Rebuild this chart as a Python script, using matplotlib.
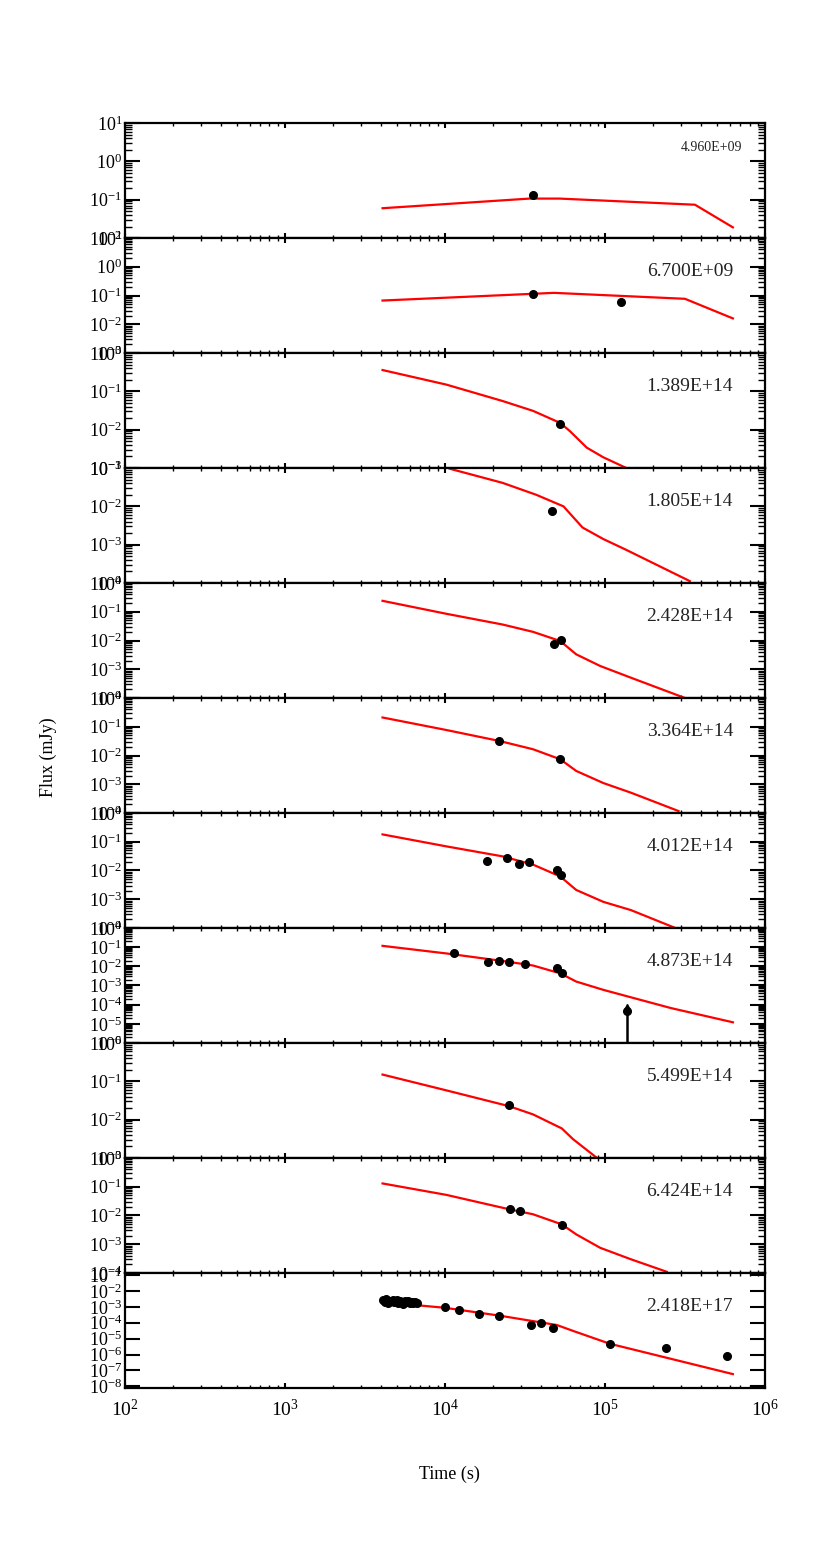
import numpy as np
import matplotlib
matplotlib.use("Agg")
import matplotlib.pyplot as plt
from matplotlib.ticker import LogLocator, LogFormatterMathtext, NullFormatter, NullLocator

plt.rcParams["font.family"] = ["Liberation Serif", "DejaVu Serif"]
plt.rcParams["mathtext.fontset"] = "custom"
plt.rcParams["mathtext.rm"] = "Liberation Serif"
plt.rcParams["mathtext.it"] = "Liberation Serif:italic"

# -------------------- data --------------------
freq_labels = ["4.960E+09", "6.700E+09", "1.389E+14", "1.805E+14", "2.428E+14",
               "3.364E+14", "4.012E+14", "4.873E+14", "5.499E+14", "6.424E+14",
               "2.418E+17"]

# model curves (time s, flux mJy)
m1_t = [4070, 33700, 52000, 365000, 630000]
m1_f = [0.060, 0.107, 0.107, 0.074, 0.019]
m2_t = [4070, 48000, 316000, 630000]
m2_f = [0.067, 0.124, 0.077, 0.016]
m3_t = [4070, 10200, 22900, 35500, 52500, 60300, 76900, 97700, 136000]
m3_f = [0.36, 0.15, 0.056, 0.031, 0.015, 0.0092, 0.0034, 0.0019, 0.0010]
m4_t = [10700, 22900, 37200, 55000, 72400, 97700, 136000, 339000]
m4_f = [0.096, 0.041, 0.020, 0.010, 0.0028, 0.0014, 0.00073, 0.000112]
m5_t = [4070, 10200, 22900, 35500, 52500, 66100, 93300, 145000, 316000]
m5_f = [0.24, 0.085, 0.036, 0.020, 0.0096, 0.0033, 0.0013, 0.00051, 0.00010]
m6_t = [4070, 10200, 21900, 35500, 52500, 66100, 97700, 145000, 288000]
m6_f = [0.21, 0.077, 0.032, 0.0165, 0.0074, 0.0029, 0.0011, 0.00051, 0.000117]
m7_t = [4070, 10200, 22900, 35500, 52500, 66100, 97700, 145000, 275000]
m7_f = [0.18, 0.069, 0.031, 0.016, 0.0062, 0.0021, 0.00081, 0.00042, 0.00010]
m8_t = [4070, 10200, 22900, 35500, 52500, 66100, 97700, 257000, 630000]
m8_f = [0.117, 0.047, 0.019, 0.011, 0.0043, 0.0016, 0.00059, 6.7e-5, 1.2e-5]
m9_t = [4070, 10200, 25100, 35500, 53700, 63100, 89100]
m9_f = [0.15, 0.058, 0.0225, 0.0137, 0.0059, 0.0031, 0.0010]
m10_t = [4070, 10200, 25100, 35500, 53700, 66100, 93300, 145000, 243000]
m10_f = [0.13, 0.052, 0.0165, 0.011, 0.0049, 0.0022, 0.00075, 0.00030, 0.00011]
m11_t = [4070, 10000, 21900, 50000, 63000, 107000, 630000]
m11_f = [2.0e-3, 8.7e-4, 2.8e-4, 7.2e-5, 3.1e-5, 4.8e-6, 5.9e-8]

# observed points
o1_t = [35600]
o1_f = [0.13]
o2_t = [35600, 125000]
o2_f = [0.115, 0.062]
o3_t = [52500]
o3_f = [0.0137]
o4_t = [46500]
o4_f = [0.0076]
o5_t = [48000, 52800]
o5_f = [0.0078, 0.0104]
o6_t = [21900, 52500]
o6_f = [0.032, 0.0078]
o7_t = [18300, 24500, 29200, 33300, 50000, 52800]
o7_f = [0.021, 0.027, 0.0175, 0.0204, 0.010, 0.0071]
o8_t = [11400, 18500, 21900, 25000, 31600, 50000, 53500]
o8_f = [0.047, 0.0162, 0.0196, 0.0174, 0.0138, 0.0079, 0.0044]
o8_lim_t = [138000]
o8_lim_f = [4.5e-5]
o9_t = [25000]
o9_f = [0.0236]
o10_t = [25500, 29400, 54000]
o10_f = [0.0165, 0.0144, 0.0045]
o11_t = [4100, 4200, 4300, 4400, 4500, 4600, 4700, 4800, 4900, 5000, 5100,
         5200, 5300, 5450, 5600, 5750, 5900, 6050, 6200, 6350, 6500, 6700,
         10000, 12300, 16300, 21800, 34700, 40000, 47500, 108000, 240000, 575000]
o11_f = [2.6e-3, 2.0e-3, 2.9e-3, 1.8e-3, 2.4e-3, 2.2e-3, 2.7e-3, 1.9e-3, 2.3e-3,
         2.8e-3, 1.7e-3, 2.5e-3, 2.1e-3, 1.6e-3, 2.4e-3, 1.9e-3, 2.2e-3, 1.8e-3,
         2.0e-3, 1.7e-3, 1.9e-3, 1.8e-3,
         1.05e-3, 6.5e-4, 3.6e-4, 2.8e-4, 7.4e-5, 9.5e-5, 4.6e-5, 4.8e-6, 2.5e-6, 7.9e-7]

model_t = [m1_t, m2_t, m3_t, m4_t, m5_t, m6_t, m7_t, m8_t, m9_t, m10_t, m11_t]
model_f = [m1_f, m2_f, m3_f, m4_f, m5_f, m6_f, m7_f, m8_f, m9_f, m10_f, m11_f]
obs_t = [o1_t, o2_t, o3_t, o4_t, o5_t, o6_t, o7_t, o8_t, o9_t, o10_t, o11_t]
obs_f = [o1_f, o2_f, o3_f, o4_f, o5_f, o6_f, o7_f, o8_f, o9_f, o10_f, o11_f]

# y-range per panel (log10 decades)
ylims = [(-2, 1), (-3, 1), (-3, 0), (-4, -1), (-4, 0), (-4, 0), (-4, 0),
         (-6, 0), (-3, 0), (-4, 0), (-8.1, -0.87)]

# -------------------- plotting --------------------
fig, axes = plt.subplots(len(freq_labels), 1, figsize=(8.3, 15.42), dpi=100, sharex=True)
fig.subplots_adjust(left=0.1506, right=0.9217, top=0.9202, bottom=0.0999, hspace=0)

for i, ax in enumerate(axes):
    ax.plot(model_t[i], model_f[i], color="red", lw=1.6, zorder=2)
    ax.plot(obs_t[i], obs_f[i], "o", color="black", ms=5.5, zorder=3)
    if i == 7:
        for t, f in zip(o8_lim_t, o8_lim_f):
            ax.plot([t, t], [f, 10 ** ylims[i][0]], color="black", lw=1.8, zorder=3)
            ax.plot([t], [f], "o", color="black", ms=5.5, zorder=3)
            ax.plot([t], [f * 1.6], "^", color="black", ms=5, zorder=3)
    if i == 10:
        ax.errorbar(o11_t, o11_f, yerr=[np.array(o11_f) * 0.3, np.array(o11_f) * 0.3],
                    fmt="none", ecolor="black", elinewidth=1.2, zorder=3)

    ax.set_xscale("log")
    ax.set_yscale("log")
    ax.set_xlim(1e2, 1e6)
    lo, hi = ylims[i]
    ax.set_ylim(10 ** lo, 10 ** hi)

    ax.yaxis.set_major_locator(LogLocator(base=10, numticks=30))
    if i == 10:
        ax.yaxis.set_minor_locator(NullLocator())
    else:
        ax.yaxis.set_minor_locator(LogLocator(base=10, subs=np.arange(2, 10), numticks=30))
    ax.yaxis.set_major_formatter(LogFormatterMathtext())
    ax.yaxis.set_minor_formatter(NullFormatter())
    ax.xaxis.set_major_locator(LogLocator(base=10, numticks=10))
    ax.xaxis.set_minor_locator(LogLocator(base=10, subs=np.arange(2, 10), numticks=10))

    ax.tick_params(axis="y", which="major", direction="in", left=True, right=True,
                   length=11, width=1.5, labelsize=13, pad=2)
    ax.tick_params(axis="y", which="minor", direction="in", left=True, right=True,
                   length=5, width=1.0)
    ax.tick_params(axis="x", which="major", direction="in", top=True, bottom=True,
                   length=3.5, width=1.5, labelsize=14, pad=8)
    ax.tick_params(axis="x", which="minor", direction="in", top=True, bottom=True,
                   length=2, width=1.0)
    for sp in ax.spines.values():
        sp.set_linewidth(1.6)

    if i == 0:
        ax.text(0.964, 0.79, freq_labels[i], transform=ax.transAxes,
                ha="right", va="center", fontsize=10, color="#222222")
    else:
        ax.text(0.95, 0.71, freq_labels[i], transform=ax.transAxes,
                ha="right", va="center", fontsize=14, color="#222222")

    if i < len(axes) - 1:
        ax.tick_params(axis="x", labelbottom=False)

fig.text(0.058, 0.509, "Flux (mJy)", rotation=90, ha="center", va="center", fontsize=13)
fig.text(0.542, 0.044, "Time (s)", ha="center", va="center", fontsize=13)

fig.savefig("out.png", dpi=100)
